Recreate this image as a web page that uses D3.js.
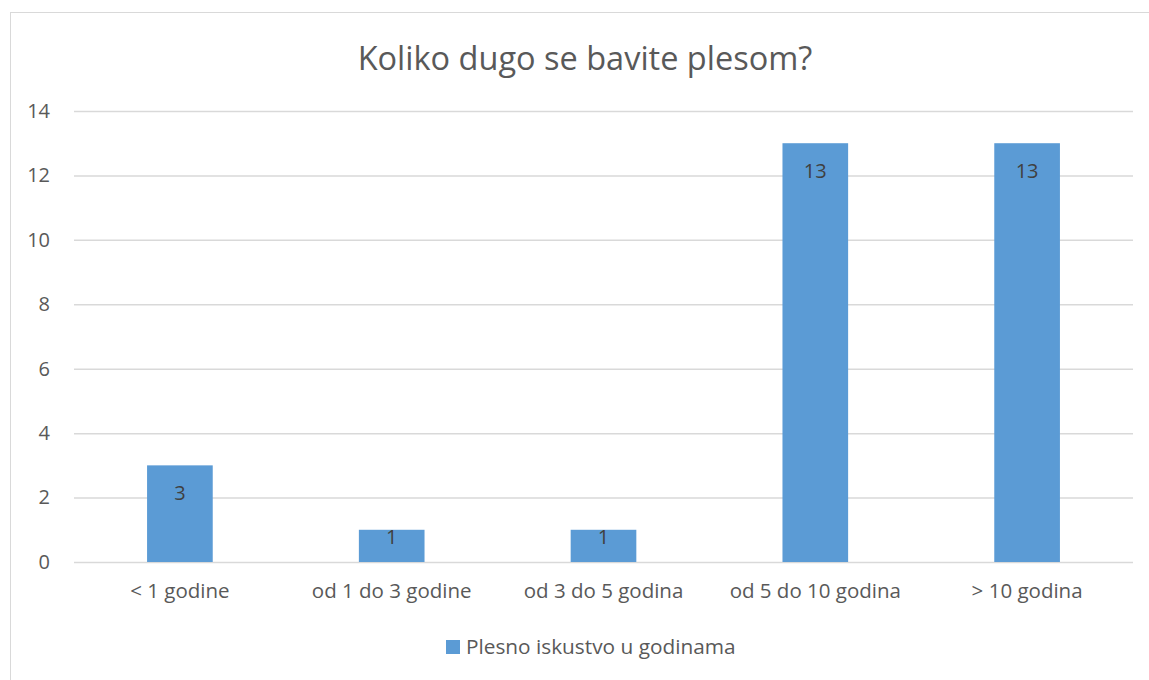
<!DOCTYPE html>
<html>
<head>
<meta charset="utf-8">
<script src="https://cdn.jsdelivr.net/npm/d3@7"></script>
<style>
  body{margin:0;background:#fff;}
  svg text{font-family:"Open Sans","Liberation Sans",sans-serif;}
</style>
</head>
<body>
<div id="chart"></div>
<script>
var categories = ["< 1 godine","od 1 do 3 godine","od 3 do 5 godina","od 5 do 10 godina","> 10 godina"];
var values = [3,1,1,13,13];
var yTicks = [0,2,4,6,8,10,12,14];
var seriesName = "Plesno iskustvo u godinama";
var chartTitle = "Koliko dugo se bavite plesom?";

var width = 1149, height = 680;
var plotLeft = 74, plotRight = 1133, plotTop = 111, plotBottom = 562;
var barColor = "#5B9BD5";

var svg = d3.select("#chart")
    .append("svg")
    .attr("width",width)
    .attr("height",height);

// chart frame
svg.append("rect")
    .attr("x",10.5)
    .attr("y",12.5)
    .attr("width",1147)
    .attr("height",680)
    .attr("fill","none")
    .attr("stroke","#d9d9d9");

var xScale = d3.scaleBand()
    .domain(categories)
    .range([plotLeft,plotRight]);

var yScale = d3.scaleLinear()
    .domain([0,14])
    .range([plotBottom,plotTop]);

// gridlines
svg.append("g")
    .attr("transform","translate("+plotLeft+",0)")
    .call(d3.axisLeft(yScale)
      .tickValues(yTicks)
      .tickSize(-(plotRight-plotLeft))
      .tickFormat(""))
    .call(g => g.select(".domain").remove())
    .selectAll("line")
    .attr("stroke","#d9d9d9")
    .attr("stroke-width",1.5);

// y labels
var yAxis = svg.append("g")
    .attr("transform","translate("+(plotLeft-24)+",0)")
    .call(d3.axisLeft(yScale).tickValues(yTicks).tickSize(0).tickPadding(0));
yAxis.select(".domain").remove();
yAxis.selectAll("text")
    .attr("font-size",20)
    .attr("fill","#595959")
    .attr("font-family","'Open Sans',sans-serif");

var barW = xScale.bandwidth()*0.31;

svg.append("g")
    .selectAll("rect")
    .data(values)
    .enter()
    .append("rect")
    .attr("x",function(d,i){ return xScale(categories[i])+xScale.bandwidth()/2-barW/2; })
    .attr("y",function(d){ return yScale(d); })
    .attr("width",barW)
    .attr("height",function(d){ return yScale(0)-yScale(d); })
    .attr("fill",barColor);

// data labels (inside end, kept inside short bars)
svg.append("g")
    .selectAll("text")
    .data(values)
    .enter()
    .append("text")
    .attr("x",function(d,i){ return xScale(categories[i])+xScale.bandwidth()/2; })
    .attr("y",function(d){ return Math.min(yScale(d)+35, yScale(0)-18); })
    .attr("text-anchor","middle")
    .attr("font-size",20)
    .attr("fill","#404040")
    .text(function(d){ return d; });

// x labels
var xAxis = svg.append("g")
    .attr("transform","translate(0,"+plotBottom+")")
    .call(d3.axisBottom(xScale).tickSize(0).tickPadding(21));
xAxis.select(".domain").remove();
xAxis.selectAll("text")
    .attr("font-size",20.5)
    .attr("fill","#595959")
    .attr("font-family","'Open Sans',sans-serif");

// title
svg.append("text")
    .attr("x",585)
    .attr("y",70)
    .attr("text-anchor","middle")
    .attr("font-size",32.5)
    .attr("fill","#595959")
    .text(chartTitle);

// legend
var legend = svg.append("g").attr("transform","translate(446,640)");
legend.append("rect")
    .attr("width",14).attr("height",14)
    .attr("fill",barColor);
legend.append("text")
    .attr("x",20).attr("y",14)
    .attr("font-size",20.8)
    .attr("fill","#595959")
    .text(seriesName);
</script>
</body>
</html>
